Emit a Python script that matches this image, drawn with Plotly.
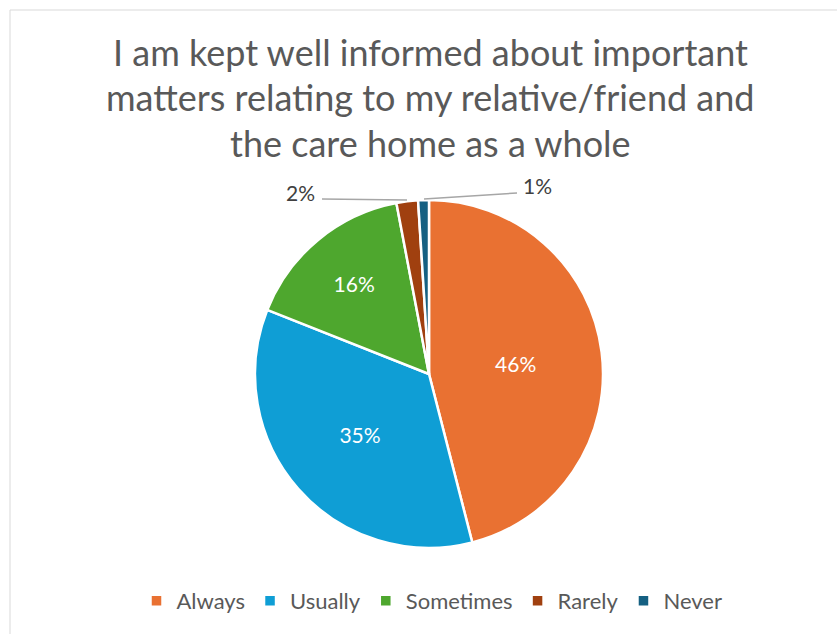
import plotly.graph_objects as go

categories = ["Always", "Usually", "Sometimes", "Rarely", "Never"]
values = [46, 35, 16, 2, 1]
colors = ["#E97132", "#0F9ED5", "#4EA72E", "#A0400F", "#156082"]
title_lines = ["I am kept well informed about important",
               "matters relating to my relative/friend and",
               "the care home as a whole"]

W, H = 837, 634
def px(x): return x / W
def py(y): return 1 - y / H

cx, cy, r = 429, 374, 174

fig = go.Figure(go.Pie(
    labels=categories, values=values, sort=False, direction="clockwise",
    rotation=0,
    marker=dict(colors=colors, line=dict(color="white", width=2.5)),
    texttemplate=["%{percent:.0%}", "%{percent:.0%}", "%{percent:.0%}", "", ""],
    textposition=["inside", "inside", "inside", "none", "none"],
    insidetextorientation="horizontal",
    textfont=dict(color="white", size=21, family="Lato"),
    domain=dict(x=[px(cx - r), px(cx + r)], y=[py(cy + r), py(cy - r)]),
    hoverinfo="label+percent",
))

# outside labels with leader lines for small slices
small = [(3, 300, 192, [(322, 199), (407, 200)]),
         (4, 537, 186, [(424, 199), (517, 193)])]
for idx, tx, ty, pts in small:
    fig.add_annotation(x=px(tx), y=py(ty), xref="paper", yref="paper",
                       xanchor="center", yanchor="middle",
                       text=f"{values[idx]}%", showarrow=False,
                       font=dict(size=21, color="#404040", family="Lato"))
    fig.add_shape(type="line", xref="paper", yref="paper",
                  x0=px(pts[0][0]), y0=py(pts[0][1]), x1=px(pts[1][0]), y1=py(pts[1][1]),
                  line=dict(color="#A6A6A6", width=1.5))

# title as three centred lines
for i, line in enumerate(title_lines):
    fig.add_annotation(x=px(430), y=py(52 + 45.5 * i), xref="paper", yref="paper",
                       xanchor="center", yanchor="middle", text=line, showarrow=False,
                       font=dict(size=36, color="#595959", family="Lato"))

fig.add_shape(type="rect", xref="paper", yref="paper",
              x0=px(10), y0=py(10), x1=px(900), y1=py(700),
              line=dict(color="#D9D9D9", width=1))

fig.update_layout(
    width=W, height=H, margin=dict(l=0, r=0, t=0, b=0),
    paper_bgcolor="white", plot_bgcolor="white",
    showlegend=True,
    legend=dict(orientation="h", x=px(432), xanchor="center", y=py(601), yanchor="middle",
                font=dict(size=22, color="#595959", family="Lato"),
                itemwidth=30, tracegroupgap=0),
)

fig.write_html("out.html")
